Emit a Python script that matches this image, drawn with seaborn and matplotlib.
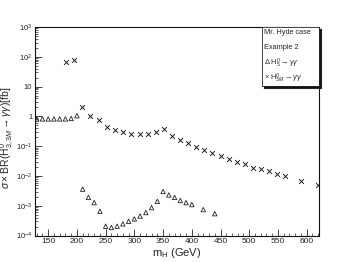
import numpy as np
import pandas as pd
import matplotlib
matplotlib.use("Agg")
import matplotlib.pyplot as plt
import matplotlib.ticker as mticker
import seaborn as sns

# H5 -> gamma gamma (triangles)
h5_mass = [130, 140, 150, 160, 170, 180, 190, 200, 210, 220, 230, 240, 250, 260, 270,
           280, 290, 300, 310, 320, 330, 340, 350, 360, 370, 380, 390, 400, 420, 440]
h5_xsec = [0.82, 0.82, 0.82, 0.82, 0.82, 0.82, 0.85, 1.05, 3.6e-3, 1.9e-3, 1.27e-3, 6.5e-4,
           2.05e-4, 1.85e-4, 2.05e-4, 2.45e-4, 3.0e-4, 3.6e-4, 4.5e-4, 5.9e-4, 8.6e-4, 1.4e-3,
           3.0e-3, 2.3e-3, 1.9e-3, 1.5e-3, 1.27e-3, 1.09e-3, 7.4e-4, 5.4e-4]

# H3M -> gamma gamma (crosses)
h3m_mass = [181, 195, 209, 223, 238, 252, 266, 280, 294, 309, 323, 337, 351, 366, 380,
            394, 408, 422, 436, 450, 464, 478, 492, 507, 521, 535, 549, 563, 591, 619]
h3m_xsec = [67, 78, 2.07, 1.06, 0.74, 0.44, 0.36, 0.30, 0.26, 0.25, 0.26, 0.31, 0.37, 0.225,
            0.158, 0.124, 0.092, 0.073, 0.058, 0.046, 0.037, 0.030, 0.0247, 0.019, 0.0165,
            0.0146, 0.0118, 0.0100, 0.0069, 0.0049]

legend_lines = ["Mr. Hyde case", "Example 2",
                r"$\Delta$ H$^{0}_{5}$$\rightarrow\gamma\gamma$",
                r"$\times$ H$^{0}_{3M}$$\rightarrow\gamma\gamma$"]

sns.set_style("ticks")
plt.rcParams["font.family"] = ["Liberation Sans", "DejaVu Sans"]
plt.rcParams["mathtext.fontset"] = "custom"
plt.rcParams["mathtext.rm"] = "Liberation Sans"
plt.rcParams["mathtext.it"] = "Liberation Sans:italic"
plt.rcParams["mathtext.bf"] = "Liberation Sans:bold"

df = pd.concat([
    pd.DataFrame({"mass": h5_mass, "xsec": h5_xsec, "proc": "H5"}),
    pd.DataFrame({"mass": h3m_mass, "xsec": h3m_xsec, "proc": "H3M"}),
])

W, H = 355, 262
fig = plt.figure(figsize=(W / 100, H / 100), dpi=100)
x0, x1, y0, y1 = 35, 319.3, 27, 235.5
ax = fig.add_axes([x0 / W, 1 - y1 / H, (x1 - x0) / W, (y1 - y0) / H])

sns.scatterplot(data=df[df.proc == "H5"], x="mass", y="xsec", ax=ax, marker="^",
                s=10, facecolor="none", edgecolor="#222222", linewidth=0.6, legend=False)
sns.scatterplot(data=df[df.proc == "H3M"], x="mass", y="xsec", ax=ax, marker="x",
                s=12, color="#222222", linewidth=0.7, legend=False)

ax.set_yscale("log")
ax.set_xlim(127, 622)
ax.set_ylim(1e-4, 1e3)

def yfmt(v, pos):
    e = int(round(np.log10(v)))
    if e == 0:
        return "1"
    if e == 1:
        return "10"
    return r"10$^{%d}$" % e

ax.yaxis.set_major_locator(mticker.LogLocator(base=10, numticks=20))
ax.yaxis.set_major_formatter(mticker.FuncFormatter(yfmt))
ax.yaxis.set_minor_locator(mticker.LogLocator(base=10, subs=np.arange(2, 10), numticks=20))
ax.yaxis.set_minor_formatter(mticker.NullFormatter())
ax.xaxis.set_major_locator(mticker.MultipleLocator(50))
ax.xaxis.set_minor_locator(mticker.MultipleLocator(10))

ax.tick_params(which="major", direction="in", length=5, width=0.6, pad=2, colors="#222222")
ax.tick_params(axis="x", which="major", labelsize=6)
ax.tick_params(axis="y", which="major", labelsize=5.5)
ax.tick_params(which="minor", direction="in", length=2.5, width=0.5)
for sp in ax.spines.values():
    sp.set_visible(True)
    sp.set_linewidth(0.8)
    sp.set_color("#111111")

ax.set_xlabel(r"m$_{\mathrm{H}}$ (GeV)", fontsize=8)
ax.xaxis.set_label_coords(0.5, -0.05)
ax.set_ylabel(r"$\sigma\times$BR(H$^{0}_{3,3M}$$\rightarrow\gamma\gamma$)[fb]", fontsize=7.5)
ax.yaxis.set_label_coords(-0.068, 0.47)

# legend box with ROOT-style shadow
bx0, bx1, by0, by1 = 262, 319, 27, 86
sh = fig.add_axes([(bx0 + 2) / W, 1 - (by1 + 2) / H, (bx1 - bx0) / W, (by1 - by0) / H])
sh.set_facecolor("#111111")
sh.set_xticks([]); sh.set_yticks([])
box = fig.add_axes([bx0 / W, 1 - by1 / H, (bx1 - bx0) / W, (by1 - by0) / H])
box.set_facecolor("white")
box.set_xticks([]); box.set_yticks([])
for sp in box.spines.values():
    sp.set_linewidth(0.6)
for i, line in enumerate(legend_lines):
    box.text(0.04, 0.90 - i * 0.255, line, fontsize=5.3, ha="left", va="center",
             transform=box.transAxes)

fig.savefig("out.png", dpi=100)
plt.close()
